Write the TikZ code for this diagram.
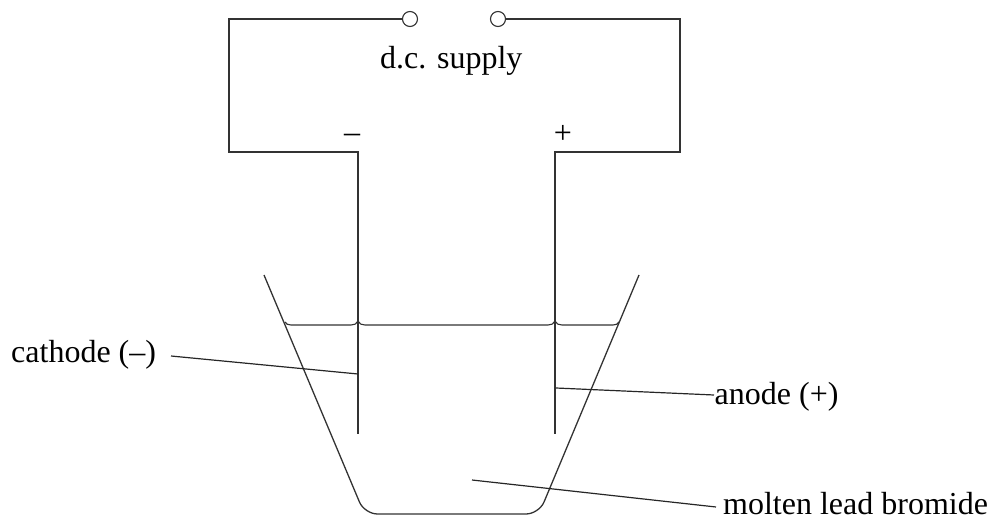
\documentclass[tikz,border=0pt]{standalone}
\usepackage{fontspec}
\setmainfont{Liberation Serif}
\tikzset{
  wire/.style={line width=1.3pt, black!80},
  terminal/.style={circle, draw=black!80, line width=1.1pt, fill=white, minimum size=15pt, inner sep=0pt},
  lab/.style={font=\fontsize{32}{38}\selectfont, inner sep=0pt, anchor=base west},
  leader/.style={line width=1.2pt, black!85}
}
\begin{document}
\begin{tikzpicture}[x=1pt, y=-1pt]
  \useasboundingbox (0,0) rectangle (991,516);
  % supply terminals
  \node[terminal] (termL) at (410,19) {};
  \node[terminal] (termR) at (498,19) {};
  \node[lab] (supply) at (380,69) {d.c. supply};
  \node[lab, anchor=center] (minus) at (352,138) {–};
  \node[lab, anchor=center] (plus) at (563,134) {+};
  % electrodes
  \coordinate (cathTop) at (358,152);
  \coordinate (cathEnd) at (358,434);
  \coordinate (anTop) at (555,152);
  \coordinate (anEnd) at (555,434);
  \draw[wire] (termL) -- (229,19) |- (cathTop) -- (cathEnd);
  \draw[wire] (termR) -- (680,19) |- (anTop) -- (anEnd);
  % beaker
  \draw[wire, rounded corners=13pt] (264,275) -- (364.5,514) -- (539,514) -- (639,275);
  % liquid surface
  \draw[wire, line width=1.1pt] (285,322) .. controls (286,324) and (288,325) .. (291,325) -- (351,325)
    .. controls (354,325) and (357,324) .. (358,321) .. controls (359,324) and (362,325) .. (365,325)
    -- (548,325) .. controls (551,325) and (554,324) .. (555,321) .. controls (556,324) and (559,325) .. (562,325)
    -- (613,325) .. controls (616,325) and (618,324) .. (619,322);
  % labels and leaders
  \node[lab] (cathode) at (11,362) {cathode (–)};
  \node[lab] (anode) at (714.5,404) {anode (+)};
  \node[lab] (bromide) at (723,514) {molten lead bromide};
  \coordinate (cathFree) at (171,356);
  \coordinate (anFree) at (714,395);
  \coordinate (meltFree) at (716,507);
  \coordinate (cathPt) at (358,374);
  \coordinate (anPt) at (556,388);
  \coordinate (meltPt) at (472,480);
  \draw[leader] (cathFree) -- (cathPt);
  \draw[leader] (anFree) -- (anPt);
  \draw[leader] (meltFree) -- (meltPt);
\end{tikzpicture}
\end{document}
